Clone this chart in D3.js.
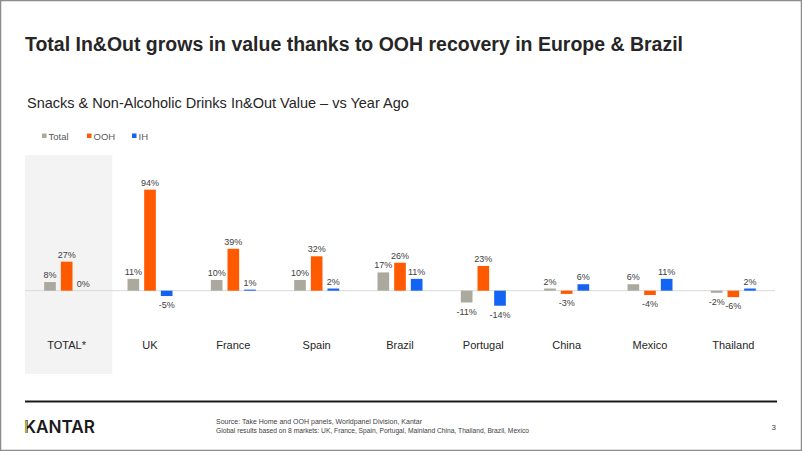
<!DOCTYPE html>
<html><head><meta charset="utf-8">
<script src="https://cdn.jsdelivr.net/npm/d3@7"></script>
<style>body{margin:0;background:#fff}svg{display:block;font-family:"Liberation Sans",Arial,sans-serif}</style>
</head><body><svg id="c" width="802" height="451"></svg>
<script>
const categories = ["TOTAL*","UK","France","Spain","Brazil","Portugal","China","Mexico","Thailand"];
const seriesNames = ["Total","OOH","IH"];
const totalValues = [8,11,10,10,17,-11,2,6,-2];
const oohValues = [27,94,39,32,26,23,-3,-4,-6];
const ihValues = [0,-5,1,2,11,-14,6,11,2];
const colors = ["#aba99e","#ff5a00","#1464f4"];

const svg = d3.select("#c");
svg.append("rect").attr("x",0.5).attr("y",0.5).attr("width",801).attr("height",450)
  .attr("fill","#fff").attr("stroke","#8c8c8c").attr("stroke-width",1.5);

svg.append("text").attr("x",25).attr("y",51).attr("font-size",19.5).attr("font-weight","bold")
  .attr("fill","#262626").attr("textLength",658).attr("lengthAdjust","spacingAndGlyphs")
  .text("Total In&Out grows in value thanks to OOH recovery in Europe & Brazil");
svg.append("text").attr("x",27).attr("y",108).attr("font-size",14.5)
  .attr("fill","#262626").text("Snacks & Non-Alcoholic Drinks In&Out Value – vs Year Ago");

// legend
const legX = [42,87,132];
seriesNames.forEach((n,i)=>{
  svg.append("rect").attr("x",legX[i]).attr("y",133.5).attr("width",4.5).attr("height",4.5).attr("fill",colors[i]);
  svg.append("text").attr("x",legX[i]+6.5).attr("y",139.5).attr("font-size",9.5).attr("fill","#595959").text(n);
});

const x = d3.scaleBand().domain(categories).range([25,775]);
const xs = d3.scaleBand().domain(seriesNames).range([-22.5,22.5]).paddingInner(0.3).paddingOuter(0);
const y = d3.scaleLinear().domain([-15,100]).range([306.8,183.2]);

// shaded TOTAL panel
svg.append("rect").attr("x",x("TOTAL*")).attr("y",155).attr("width",x.bandwidth()+4).attr("height",219).attr("fill","#f3f3f3");

// zero line
svg.append("line").attr("x1",25).attr("x2",775).attr("y1",y(0)).attr("y2",y(0)).attr("stroke","#d9d9d9").attr("stroke-width",1);

const data = [];
categories.forEach((c,ci)=>{
  [totalValues,oohValues,ihValues].forEach((arr,si)=>data.push({c, s:seriesNames[si], si, v:arr[ci]}));
});
const bx = d=>x(d.c)+x.bandwidth()/2+xs(d.s);
svg.append("g").selectAll("rect").data(data.filter(d=>d.v!==0)).join("rect")
  .attr("x",bx).attr("width",xs.bandwidth())
  .attr("y",d=>Math.min(y(d.v),y(0))).attr("height",d=>Math.abs(y(d.v)-y(0)))
  .attr("fill",d=>colors[d.si]);
svg.append("g").selectAll("text").data(data).join("text")
  .attr("x",d=>bx(d)+xs.bandwidth()/2).attr("text-anchor","middle")
  .attr("y",d=>d.v>=0 ? y(d.v)-4 : y(d.v)+12)
  .attr("font-size",9).attr("fill","#404040").text(d=>d.v+"%");

// category labels
svg.append("g").selectAll("text").data(categories).join("text")
  .attr("x",d=>x(d)+x.bandwidth()/2).attr("y",349).attr("text-anchor","middle")
  .attr("font-size",11).attr("fill","#262626").text(d=>d);

// footer
svg.append("line").attr("x1",25).attr("x2",777).attr("y1",401.5).attr("y2",401.5).attr("stroke","#1a1a1a").attr("stroke-width",2);
svg.append("text").attr("x",24).attr("y",433).attr("font-size",17.5).attr("font-family","Inter, 'Liberation Sans', sans-serif")
  .attr("font-weight",600).attr("fill","#1a1a1a").attr("textLength",71).attr("lengthAdjust","spacingAndGlyphs").text("KANTAR");
svg.append("rect").attr("x",25).attr("y",420.5).attr("width",2).attr("height",12.5).attr("fill","#c9a227");
svg.append("text").attr("x",216).attr("y",424).attr("font-size",7).attr("fill","#404040")
  .attr("textLength",206).attr("lengthAdjust","spacingAndGlyphs").text("Source: Take Home and OOH panels, Worldpanel Division, Kantar");
svg.append("text").attr("x",216).attr("y",432.5).attr("font-size",7).attr("fill","#404040")
  .attr("textLength",313).attr("lengthAdjust","spacingAndGlyphs").text("Global results based on 8 markets: UK, France, Spain, Portugal, Mainland China, Thailand, Brazil, Mexico");
svg.append("text").attr("x",776).attr("y",430).attr("text-anchor","end").attr("font-size",8).attr("fill","#404040").text("3");
</script></body></html>
